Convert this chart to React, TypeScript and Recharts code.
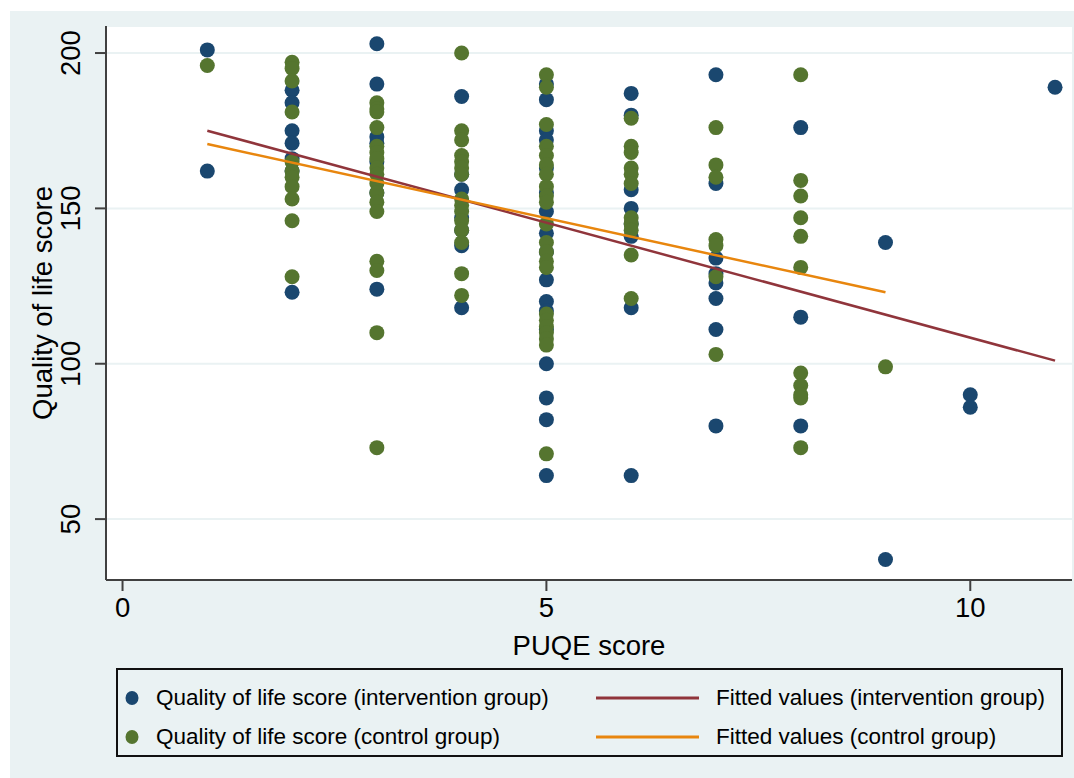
import React from 'react';
import { ScatterChart, Scatter, XAxis, YAxis, CartesianGrid } from 'recharts';

// PUQE score columns and Quality of life scores (intervention group)
const interventionX = [
  1, 1,
  2, 2, 2, 2, 2, 2, 2,
  3, 3, 3, 3, 3, 3, 3,
  4, 4, 4, 4, 4, 4, 4,
  5, 5, 5, 5, 5, 5, 5, 5, 5, 5, 5, 5, 5, 5, 5, 5, 5,
  6, 6, 6, 6, 6, 6, 6, 6,
  7, 7, 7, 7, 7, 7, 7, 7,
  8, 8, 8,
  9, 9,
  10, 10,
  11,
];
const interventionY = [
  201, 162,
  188, 184, 175, 171, 166, 162, 123,
  203, 190, 173, 171, 165, 155, 124,
  186, 161, 156, 147, 143, 138, 118,
  190, 185, 175, 172, 163, 155, 149, 142, 136, 127, 120, 117, 111, 100, 89, 82, 64,
  187, 180, 156, 150, 145, 141, 118, 64,
  193, 158, 134, 129, 126, 121, 111, 80,
  176, 115, 80,
  139, 37,
  90, 86,
  189,
];

// Quality of life scores (control group)
const controlX = [
  1,
  2, 2, 2, 2, 2, 2, 2, 2, 2, 2, 2,
  3, 3, 3, 3, 3, 3, 3, 3, 3, 3, 3, 3, 3, 3, 3, 3, 3,
  4, 4, 4, 4, 4, 4, 4, 4, 4, 4, 4, 4, 4, 4, 4,
  5, 5, 5, 5, 5, 5, 5, 5, 5, 5, 5, 5, 5, 5, 5, 5, 5, 5, 5, 5, 5, 5,
  6, 6, 6, 6, 6, 6, 6, 6, 6, 6, 6,
  7, 7, 7, 7, 7, 7, 7,
  8, 8, 8, 8, 8, 8, 8, 8, 8, 8, 8,
  9,
];
const controlY = [
  196,
  197, 195, 191, 181, 165, 162, 160, 157, 153, 146, 128,
  184, 182, 181, 176, 170, 168, 166, 163, 161, 158, 155, 152, 149, 133, 130, 110, 73,
  200, 175, 172, 167, 165, 163, 161, 153, 151, 149, 146, 143, 139, 129, 122,
  193, 189, 177, 170, 167, 164, 161, 157, 154, 152, 145, 139, 136, 133, 131, 116, 114, 112, 110, 108, 106, 71,
  179, 170, 168, 163, 161, 158, 147, 145, 143, 135, 121,
  176, 164, 160, 140, 138, 128, 103,
  193, 159, 154, 147, 141, 131, 97, 93, 90, 89, 73,
  99,
];

// Fitted values (endpoints of the regression lines)
const fitInterventionX = [1, 11];
const fitInterventionY = [175, 101];
const fitControlX = [1, 9];
const fitControlY = [170.7, 123];

const xTicks = [0, 5, 10];
const yTicks = [50, 100, 150, 200];

const zip = (xs: number[], ys: number[]) => xs.map((x, i) => ({ x, y: ys[i] }));

const interventionData = zip(interventionX, interventionY);
const controlData = zip(controlX, controlY);
const fitInterventionData = zip(fitInterventionX, fitInterventionY);
const fitControlData = zip(fitControlX, fitControlY);

const BLUE = '#1a476f';
const GREEN = '#55752f';
const RED = '#90353b';
const ORANGE = '#e8860e';
const BG = '#eaf2f3';
const AXIS = '#404040';
const FONT = '"Liberation Sans", Arial, Helvetica, sans-serif';
const AXIS_FONT = 27.5;

const dot = (color: string) => (props: any) => (
  <circle cx={props.cx} cy={props.cy} r={7.5} fill={color} />
);
const noShape = () => <g />;

const YTick = (props: any) => {
  const { x, y, payload } = props;
  return (
    <text
      x={x}
      y={y}
      transform={`rotate(-90, ${x}, ${y})`}
      textAnchor="middle"
      fontSize={AXIS_FONT}
      fontFamily={FONT}
      fill="#000"
    >
      {payload.value}
    </text>
  );
};

const XTick = (props: any) => {
  const { x, y, payload } = props;
  return (
    <text x={x} y={y} dy="0.72em" textAnchor="middle" fontSize={AXIS_FONT} fontFamily={FONT} fill="#000">
      {payload.value}
    </text>
  );
};

const YTitle = (props: any) => {
  const vb = props.viewBox || { x: 0, y: 26, width: 96, height: 554 };
  const x = vb.x + 52;
  const y = vb.y + vb.height / 2;
  return (
    <text
      x={x}
      y={y}
      transform={`rotate(-90, ${x}, ${y})`}
      textAnchor="middle"
      fontSize={AXIS_FONT}
      fontFamily={FONT}
      fill="#000"
    >
      Quality of life score
    </text>
  );
};

const XTitle = (props: any) => {
  const vb = props.viewBox || { x: 106, y: 580, width: 966, height: 80 };
  const x = vb.x + vb.width / 2;
  const y = vb.y + 75;
  return (
    <text x={x} y={y} textAnchor="middle" fontSize={AXIS_FONT} fontFamily={FONT} fill="#000">
      PUQE score
    </text>
  );
};

const legendItems = [
  { label: 'Quality of life score (intervention group)', color: BLUE, kind: 'dot', col: 0, row: 0 },
  { label: 'Fitted values (intervention group)', color: RED, kind: 'line', col: 1, row: 0 },
  { label: 'Quality of life score (control group)', color: GREEN, kind: 'dot', col: 0, row: 1 },
  { label: 'Fitted values (control group)', color: ORANGE, kind: 'line', col: 1, row: 1 },
];

export default function App() {
  return (
    <div style={{ position: 'absolute', left: 0, top: 0, width: 1074, height: 778, background: '#fff', overflow: 'hidden' }}>
      <div style={{ position: 'absolute', left: 10, top: 11, width: 1064, height: 767, background: BG }} />
      <div style={{ position: 'absolute', left: 0, top: 0 }}>
        <ScatterChart width={1074} height={778} margin={{ top: 26, right: 2, bottom: 118, left: 0 }}>
          <CartesianGrid vertical={false} stroke={BG} strokeWidth={2} fill="#ffffff" />
          <XAxis
            type="number"
            dataKey="x"
            domain={[-0.195, 11.2]}
            ticks={xTicks}
            height={80}
            tickSize={11}
            tickMargin={6}
            axisLine={{ stroke: AXIS, strokeWidth: 2 }}
            tickLine={{ stroke: AXIS, strokeWidth: 2 }}
            tick={<XTick />}
            label={<XTitle />}
            allowDataOverflow
          />
          <YAxis
            type="number"
            dataKey="y"
            domain={[30.4, 208.7]}
            ticks={yTicks}
            width={106}
            tickSize={11}
            tickMargin={15}
            axisLine={{ stroke: AXIS, strokeWidth: 2 }}
            tickLine={{ stroke: AXIS, strokeWidth: 2 }}
            tick={<YTick />}
            label={<YTitle />}
            allowDataOverflow
          />
          <Scatter data={interventionData} shape={dot(BLUE)} isAnimationActive={false} />
          <Scatter data={controlData} shape={dot(GREEN)} isAnimationActive={false} />
          <Scatter
            data={fitInterventionData}
            line={{ stroke: RED, strokeWidth: 2.5 }}
            shape={noShape}
            isAnimationActive={false}
          />
          <Scatter
            data={fitControlData}
            line={{ stroke: ORANGE, strokeWidth: 2.5 }}
            shape={noShape}
            isAnimationActive={false}
          />
        </ScatterChart>
      </div>
      <div
        style={{
          position: 'absolute',
          left: 116,
          top: 668,
          width: 943,
          height: 85,
          border: '2px solid #111',
          background: BG,
          fontFamily: FONT,
          fontSize: 22.5,
          color: '#000',
        }}
      >
        {legendItems.map((it) => {
          const top = it.row === 0 ? 30 - 2 : 69 - 2;
          const left = it.col === 0 ? 0 : 478;
          return (
            <div key={it.label} style={{ position: 'absolute', left, top: top - 14, height: 28, display: 'flex', alignItems: 'center', whiteSpace: 'nowrap' }}>
              {it.kind === 'dot' ? (
                <svg width={38} height={28} style={{ display: 'block' }}>
                  <ellipse cx={14} cy={14} rx={6.5} ry={7} fill={it.color} />
                </svg>
              ) : (
                <svg width={120} height={28} style={{ display: 'block' }}>
                  <line x1={0} y1={14} x2={103} y2={14} stroke={it.color} strokeWidth={3} />
                </svg>
              )}
              <span>{it.label}</span>
            </div>
          );
        })}
      </div>
    </div>
  );
}
